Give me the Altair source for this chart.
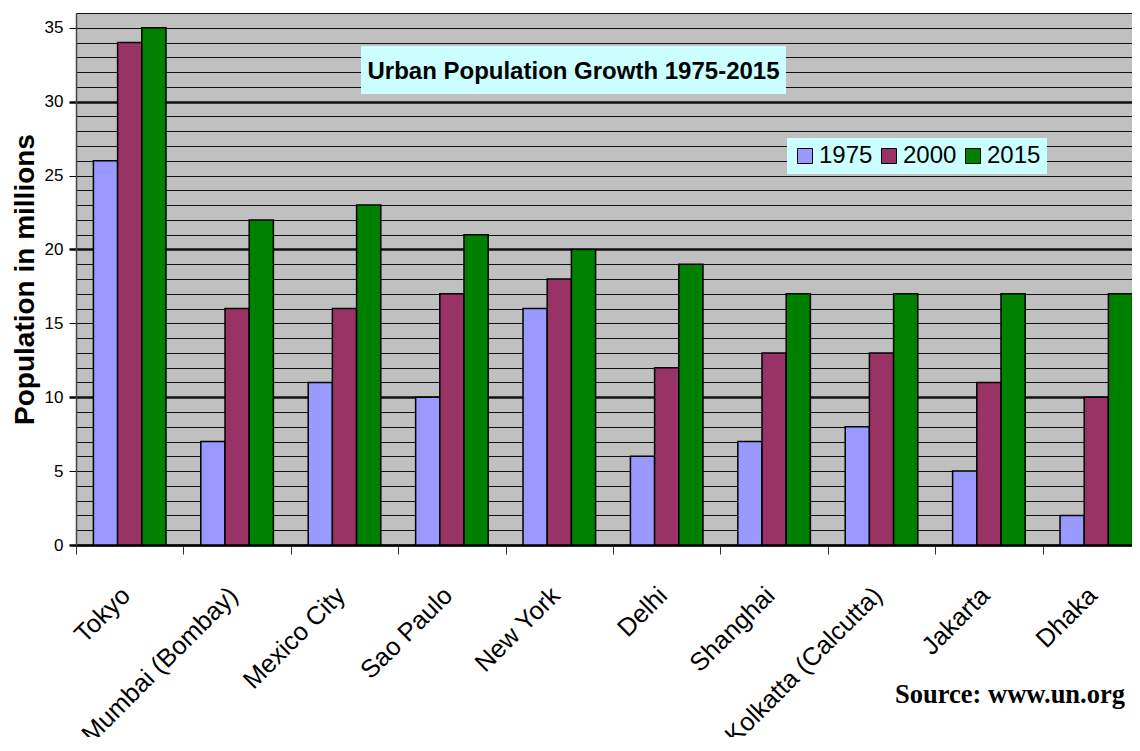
import altair as alt
import pandas as pd

cities = ["Tokyo", "Mumbai (Bombay)", "Mexico City", "Sao Paulo", "New York",
          "Delhi", "Shanghai", "Kolkatta (Calcutta)", "Jakarta", "Dhaka"]
years = ["1975", "2000", "2015"]
pop_1975 = [26, 7, 11, 10, 16, 6, 7, 8, 5, 2]
pop_2000 = [34, 16, 16, 17, 18, 12, 13, 13, 11, 10]
pop_2015 = [35, 22, 23, 21, 20, 19, 17, 17, 17, 17]
colors = ["#9999FF", "#993366", "#008000"]
y_ticks = list(range(0, 37))
title_text = "Urban Population Growth 1975-2015"
source_text = "Source: www.un.org"
y_title = "Population in millions"

SANS = "Liberation Sans"

rows = []
for yr, vals in zip(years, [pop_1975, pop_2000, pop_2015]):
    for c, v in zip(cities, vals):
        rows.append({"city": c, "year": yr, "pop": v})
df = pd.DataFrame(rows)

bars = alt.Chart(df).mark_bar(stroke="black", strokeWidth=1.5).encode(
    x=alt.X("city:N", sort=cities,
            scale=alt.Scale(paddingInner=0, paddingOuter=0),
            axis=alt.Axis(title=None, labelAngle=-45, labelAlign="right",
                          labelBaseline="middle", labelFontSize=25.5, labelFont=SANS,
                          labelColor="black", labelPadding=37, labelLimit=0,
                          labelOffset=-4,
                          tickBand="extent",
                          tickSize=9, tickColor="#333333", tickWidth=1,
                          domainColor="black", domainWidth=2, grid=False)),
    xOffset=alt.XOffset("year:N", sort=years,
                        scale=alt.Scale(paddingInner=0, paddingOuter=0.72)),
    y=alt.Y("pop:Q", scale=alt.Scale(domain=[0, 36], nice=False),
            axis=alt.Axis(values=y_ticks, grid=True, gridColor="#111111",
                          gridWidth={"condition": {"test": "datum.value % 10 == 0", "value": 2.5}, "value": 1},
                          tickColor="black",
                          tickOpacity={"condition": {"test": "datum.value % 5 == 0", "value": 1}, "value": 0},
                          tickWidth={"condition": {"test": "datum.value % 10 == 0", "value": 2.5}, "value": 1},
                          tickSize=7,
                          labelExpr="datum.value % 5 == 0 ? datum.label : ''",
                          labelFontSize=17, labelFont=SANS, labelColor="black", labelPadding=6,
                          domainColor="#444444", domainWidth=1.5,
                          title=y_title, titleFont=SANS, titleFontSize=28,
                          titleFontWeight="bold", titleColor="black",
                          titleAngle=-90, titleX=-43, titleY=266,
                          titleAlign="center", titleBaseline="alphabetic")),
    color=alt.Color("year:N", scale=alt.Scale(domain=years, range=colors),
                    legend=alt.Legend(title=None, orient="none", legendX=711, legendY=125,
                                      direction="horizontal", fillColor="#CCFFFF",
                                      padding=6, symbolType="square", symbolSize=225,
                                      symbolStrokeColor="black", symbolStrokeWidth=1,
                                      symbolOpacity=1,
                                      labelFontSize=24, labelFont=SANS, labelColor="black",
                                      labelOffset=2, columnPadding=4)),
)

title_data = alt.Data(values=[{"t": title_text}])
title_box = alt.Chart(title_data).mark_rect(color="#CCFFFF").encode(
    x=alt.value(285), x2=alt.value(710), y=alt.value(33), y2=alt.value(81))
title_txt = alt.Chart(title_data).mark_text(
    fontSize=24, fontWeight="bold", font=SANS, align="center",
    baseline="alphabetic", color="black").encode(
    x=alt.value(497.5), y=alt.value(65.6), text="t:N")

source_data = alt.Data(values=[{"s": source_text}])
source_txt = alt.Chart(source_data).mark_text(
    fontSize=26.5, fontWeight="bold", font="Liberation Serif", align="right",
    baseline="alphabetic", color="black").encode(
    x=alt.value(1049), y=alt.value(690), text="s:N")

chart = alt.layer(bars, title_box, title_txt, source_txt).properties(
    width=1074, height=532,
    autosize=alt.AutoSizeParams(type="none"),
    padding={"left": 68, "top": 5, "right": -18, "bottom": 192},
    background="white",
).configure_view(fill="#C0C0C0", strokeWidth=0)

chart.save("out.html", embed_options={"renderer": "svg", "actions": False})
